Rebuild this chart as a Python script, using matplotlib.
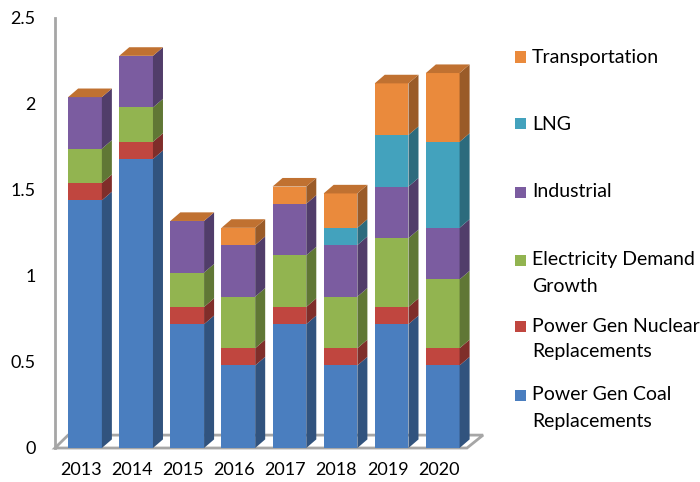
# 3D-style stacked bar chart (Excel look) of gas demand growth by sector
import numpy as np
import matplotlib.pyplot as plt
from matplotlib.patches import Polygon, Rectangle
from matplotlib.colors import to_rgb

plt.rcParams['font.family'] = ['Lato', 'DejaVu Sans']

years = ['2013', '2014', '2015', '2016', '2017', '2018', '2019', '2020']
coal = [1.44, 1.68, 0.72, 0.48, 0.72, 0.48, 0.72, 0.48]
nuclear = [0.10, 0.10, 0.10, 0.10, 0.10, 0.10, 0.10, 0.10]
electricity = [0.20, 0.20, 0.20, 0.30, 0.30, 0.30, 0.40, 0.40]
industrial = [0.30, 0.30, 0.30, 0.30, 0.30, 0.30, 0.30, 0.30]
lng = [0.0, 0.0, 0.0, 0.0, 0.0, 0.10, 0.30, 0.50]
transport = [0.0, 0.0, 0.0, 0.10, 0.10, 0.20, 0.30, 0.40]

series = [coal, nuclear, electricity, industrial, lng, transport]
labels = ['Power Gen Coal\nReplacements', 'Power Gen Nuclear\nReplacements',
          'Electricity Demand\nGrowth', 'Industrial', 'LNG', 'Transportation']
colors = ['#4a7ebf', '#c0463f', '#92b450', '#7b5ca0', '#43a2bd', '#ea8a3c']


def shade(c, f):
    r, g, b = to_rgb(c)
    return (r * f, g * f, b * f)


W, H = 700, 482
fig = plt.figure(figsize=(W / 100, H / 100), dpi=100)
ax = fig.add_axes([55 / W, 34 / H, 428.6 / W, 430 / H])
ax.set_xlim(-0.587, 7.8)
ax.set_ylim(0, 2.5)
for s in ax.spines.values():
    s.set_visible(False)

x = np.arange(len(years))
w = 0.66      # front face width
dx = 0.196    # depth offset (x)
dy = 0.05     # depth offset (y)
fd = 0.075    # floor depth (y)

# floor and wall
grey = '#a6a6a6'
floor = Polygon([(-0.587, 0), (7.475, 0), (7.79, fd), (-0.33, fd)], closed=True,
                facecolor='white', edgecolor=grey, lw=2, zorder=1, clip_on=False)
ax.add_patch(floor)
ax.plot([-0.587, -0.587], [0, 2.5], color=grey, lw=2, zorder=1, clip_on=False)

bottom = np.zeros(len(years))
for vals, c in zip(series, colors):
    vals = np.array(vals)
    ax.bar(x, vals, w, bottom=bottom, color=c, zorder=3, linewidth=0)
    for i in range(len(years)):
        if vals[i] <= 0:
            continue
        xr = x[i] + w / 2
        y0, y1 = bottom[i], bottom[i] + vals[i]
        side = Polygon([(xr, y0), (xr + dx, y0 + dy), (xr + dx, y1 + dy), (xr, y1)],
                       closed=True, facecolor=shade(c, 0.66), edgecolor='none',
                       zorder=3, clip_on=False)
        ax.add_patch(side)
    bottom = bottom + vals

# top caps
for i in range(len(years)):
    xl, xr = x[i] - w / 2, x[i] + w / 2
    t = bottom[i]
    cap = Polygon([(xl, t), (xl + dx, t + dy), (xr + dx, t + dy), (xr, t)], closed=True,
                  facecolor=shade(colors[-1], 0.82), edgecolor='none', zorder=3,
                  clip_on=False)
    ax.add_patch(cap)

ax.set_yticks([0, 0.5, 1, 1.5, 2, 2.5])
ax.set_yticklabels(['0', '0.5', '1', '1.5', '2', '2.5'])
ax.set_xticks(x - 0.08)
ax.set_xticklabels(years)
ax.tick_params(axis='y', length=0, pad=14, labelsize=13, labelcolor='black')
ax.tick_params(axis='x', length=0, pad=10, labelsize=13, labelcolor='black')

# legend, drawn by hand to keep Excel's spacing
leg_y = [395, 326, 260, 192, 124, 57]
for lab, c, yy in zip(labels, colors, leg_y):
    fig.patches.append(Rectangle((515 / W, 1 - (yy + 5.5) / H), 11 / W, 11 / H,
                                 transform=fig.transFigure, facecolor=c,
                                 edgecolor='none'))
    for k, line in enumerate(lab.split('\n')):
        fig.text(532 / W, 1 - (yy + k * 26) / H, line, fontsize=14,
                 va='center', ha='left', color='black')

fig.savefig('out.png', dpi=100)
